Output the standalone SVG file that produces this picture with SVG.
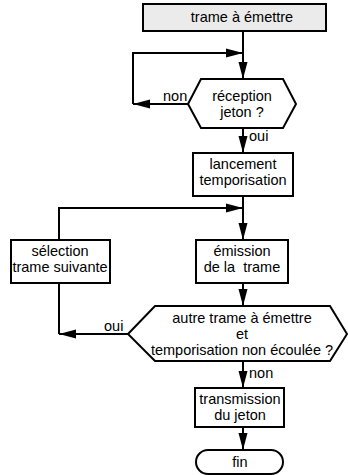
<svg xmlns="http://www.w3.org/2000/svg" width="348" height="475" viewBox="0 0 348 475">
<defs>
<marker id="ah" markerUnits="userSpaceOnUse" markerWidth="18" markerHeight="10" refX="17" refY="5" orient="auto">
<path d="M0,0.5 L17,5 L0,9.5 Z" fill="#000"/>
</marker>
<style>
.box{fill:#fff;stroke:#000;stroke-width:2}
.conn{fill:none;stroke:#000;stroke-width:2}
text{font-family:"Liberation Sans",Arial,sans-serif;font-size:14.5px;fill:#000;text-anchor:middle}
.lab{text-anchor:start}
</style>
</defs>
<rect width="348" height="475" fill="#fff"/>
<g id="connectors">
<path class="conn" d="M243,31 V79" marker-end="url(#ah)"/>
<path class="conn" d="M188,104 H133" marker-end="url(#ah)"/>
<path class="conn" d="M133,104 V53 H243" marker-end="url(#ah)"/>
<path class="conn" d="M243,128 V153" marker-end="url(#ah)"/>
<path class="conn" d="M243,196 V240" marker-end="url(#ah)"/>
<path class="conn" d="M59,240 V208 H243" marker-end="url(#ah)"/>
<path class="conn" d="M243,283 V306" marker-end="url(#ah)"/>
<path class="conn" d="M128,334 H59" marker-end="url(#ah)"/>
<path class="conn" d="M59,283 V334"/>
<path class="conn" d="M243,361 V388" marker-end="url(#ah)"/>
<path class="conn" d="M243,427 V450" marker-end="url(#ah)"/>
<text class="lab" x="163" y="101">non</text>
<text class="lab" x="249" y="141">oui</text>
<text class="lab" x="104" y="331">oui</text>
<text class="lab" x="249" y="378">non</text>
</g>
<g id="trame-a-emettre">
<rect class="box" x="143" y="4" width="183" height="27" style="fill:#ebebeb"/>
<text x="242" y="22">trame à émettre</text>
</g>
<g id="reception-jeton">
<polygon class="box" points="188,104 201,79 283,79 296,104 283,128 201,128"/>
<text x="242" y="101">réception</text>
<text x="242" y="117">jeton ?</text>
</g>
<g id="lancement-temporisation">
<rect class="box" x="193" y="153" width="100" height="43"/>
<text x="243" y="169">lancement</text>
<text x="243" y="185">temporisation</text>
</g>
<g id="selection-trame-suivante">
<rect class="box" x="11" y="240" width="99" height="43"/>
<text x="60" y="256">sélection</text>
<text x="60" y="272">trame suivante</text>
</g>
<g id="emission-trame">
<rect class="box" x="196" y="240" width="92" height="43"/>
<text x="242" y="256">émission</text>
<text x="242" y="272" xml:space="preserve">de la  trame</text>
</g>
<g id="autre-trame">
<polygon class="box" points="128,334 155,306 330,306 347,334 330,361 155,361"/>
<text x="242" y="323">autre trame à émettre</text>
<text x="242" y="339">et</text>
<text x="242" y="355">temporisation non écoulée ?</text>
</g>
<g id="transmission-jeton">
<rect class="box" x="195" y="388" width="89" height="39"/>
<text x="240" y="404">transmission</text>
<text x="240" y="420">du jeton</text>
</g>
<g id="fin">
<rect class="box" x="196" y="450" width="87" height="24" rx="12" ry="12"/>
<text x="240" y="467">fin</text>
</g>
</svg>
